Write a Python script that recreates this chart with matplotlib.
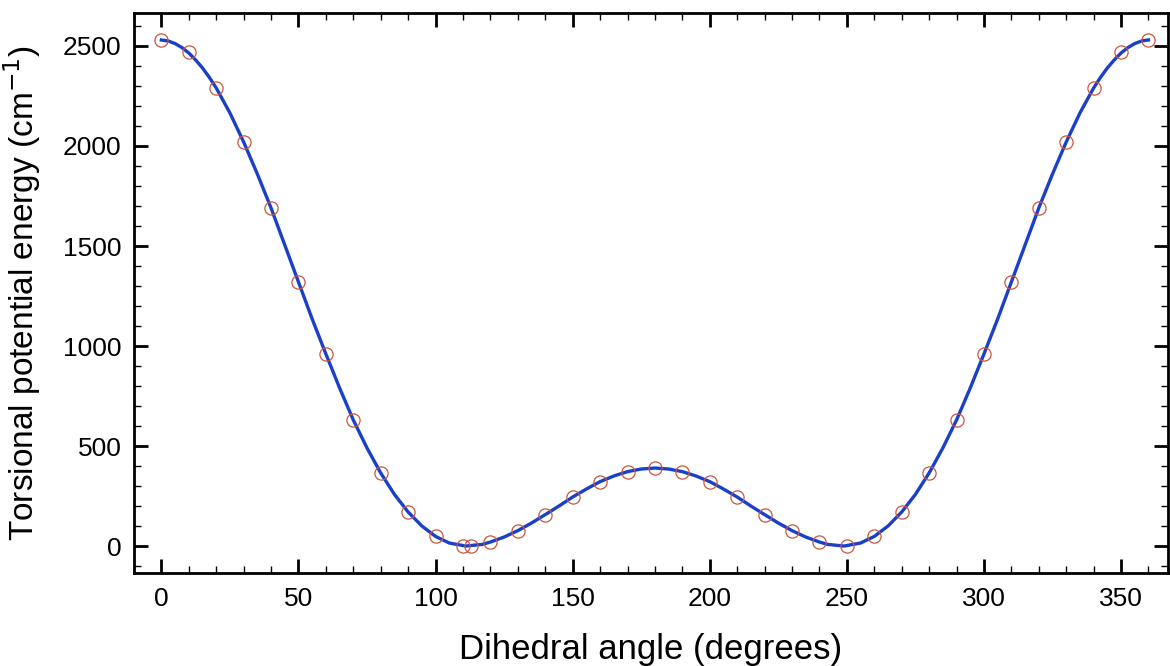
import matplotlib
matplotlib.use("Agg")
import matplotlib.pyplot as plt
from matplotlib.ticker import MultipleLocator

plt.rcParams['font.family'] = ['Liberation Sans', 'DejaVu Sans']

# computed points
angle = [0, 10, 20, 30, 40, 50, 60, 70, 80, 90, 100, 110, 113, 120, 130, 140,
         150, 160, 170, 180, 190, 200, 210, 220, 230, 240, 250, 260, 270, 280,
         290, 300, 310, 320, 330, 340, 350, 360]
energy = [2530, 2470, 2290, 2020, 1690, 1320, 960, 630, 365, 170, 50, 0, 0, 20,
          75, 155, 245, 320, 370, 390, 370, 320, 245, 155, 75, 20, 0, 50, 170,
          365, 630, 960, 1320, 1690, 2020, 2290, 2470, 2530]

# fitted curve
fit_angle = [0, 2.5, 5, 7.5, 10, 12.5, 15, 17.5, 20, 25, 30, 35, 40, 45, 50,
             55, 60, 65, 70, 75, 80, 85, 90, 95, 100, 105, 111, 117, 120, 125,
             130, 135, 140, 145, 150, 155, 160, 165, 170, 175, 180, 185, 190,
             195, 200, 205, 210, 215, 220, 225, 230, 235, 240, 243, 249, 255,
             260, 265, 270, 275, 280, 285, 290, 295, 300, 305, 310, 315, 320,
             325, 330, 335, 340, 342.5, 345, 347.5, 350, 352.5, 355, 357.5, 360]
fit_energy = [2530, 2525, 2512, 2492, 2465, 2430, 2390, 2343, 2290, 2165, 2020,
              1860, 1690, 1505, 1320, 1135, 960, 790, 630, 490, 365, 258, 170,
              100, 48, 15, 0, 8, 20, 45, 77, 115, 157, 200, 245, 285, 322, 350,
              372, 385, 390, 385, 372, 350, 322, 285, 245, 200, 157, 115, 77, 45,
              20, 8, 0, 15, 48, 100, 170, 258, 365, 490, 630, 790, 960, 1135,
              1320, 1505, 1690, 1860, 2020, 2165, 2290, 2343, 2390, 2430, 2465,
              2492, 2512, 2525, 2530]

fig = plt.figure(figsize=(11.7, 6.66), dpi=100)
ax = fig.add_axes([0.1145, 0.1396, 0.8835, 0.8409])

ax.plot(fit_angle, fit_energy, color='#1a3fc9', lw=2.4, zorder=2)
ax.plot(angle, energy, 'o', mfc='none', mec='#c8583f', ms=9.5, mew=0.9, zorder=3)

ax.set_xlim(-10, 367)
ax.set_ylim(-135, 2665)
ax.xaxis.set_major_locator(MultipleLocator(50))
ax.xaxis.set_minor_locator(MultipleLocator(10))
ax.yaxis.set_major_locator(MultipleLocator(500))
ax.yaxis.set_minor_locator(MultipleLocator(100))
ax.tick_params(which='both', direction='in', top=True, right=True, labelsize=19)
ax.tick_params(axis='x', pad=10)
ax.tick_params(axis='y', pad=9)
ax.tick_params(which='major', length=10, width=2)
ax.tick_params(which='minor', length=5, width=1)
for s in ax.spines.values():
    s.set_linewidth(2)

ax.set_xlabel("Dihedral angle (degrees)", fontsize=25, labelpad=16)
ax.set_ylabel("Torsional potential energy (cm$^{-1}$)", fontsize=24, labelpad=14)

fig.savefig("out.png", dpi=100)
